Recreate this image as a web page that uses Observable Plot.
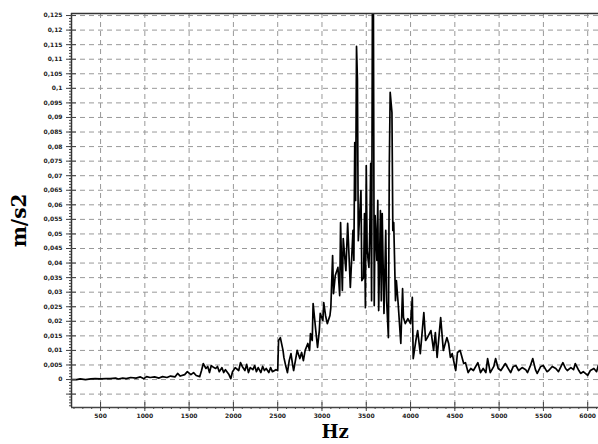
<!DOCTYPE html>
<html>
<head>
<meta charset="utf-8">
<script src="https://cdn.jsdelivr.net/npm/d3@7"></script>
<script src="https://cdn.jsdelivr.net/npm/@observablehq/plot@0.6"></script>
<style>
  html, body { margin: 0; padding: 0; background: #fff; }
  #chart { width: 598px; height: 444px; }
</style>
</head>
<body>
<div id="chart"></div>
<script>
// Frequency (Hz) and acceleration (m/s2)
const hz = [170,230,270,330,390,440,500,560,610,670,700,750,790,840,900,950,990,1020,1060,1110,1160,1200,1250,1290,1340,1370,1400,1450,1480,1520,1550,1580,1620,1640,1660,1690,1710,1730,1750,1780,1800,1820,1840,1870,1890,1910,1950,1970,1990,2020,2060,2080,2100,2130,2150,2170,2190,2220,2240,2260,2280,2310,2330,2350,2370,2400,2420,2440,2480,2500,2510,2530,2560,2570,2590,2610,2630,2650,2670,2680,2700,2720,2750,2770,2790,2810,2840,2860,2870,2890,2900,2930,2950,2970,2980,3010,3020,3040,3060,3090,3100,3120,3130,3150,3180,3200,3210,3220,3230,3240,3270,3290,3310,3320,3350,3360,3370,3380,3390,3400,3410,3440,3450,3470,3480,3490,3500,3510,3530,3540,3550,3560,3570,3580,3590,3600,3620,3630,3640,3660,3670,3680,3700,3720,3730,3750,3760,3770,3790,3800,3810,3830,3840,3860,3890,3910,3920,3940,3970,4000,4020,4030,4060,4080,4110,4150,4170,4190,4230,4260,4280,4300,4340,4370,4410,4430,4450,4470,4510,4530,4560,4600,4620,4650,4680,4710,4760,4790,4820,4850,4870,4900,4940,4960,4990,5020,5070,5110,5130,5160,5190,5220,5260,5300,5320,5350,5380,5410,5430,5470,5500,5540,5560,5600,5640,5670,5720,5750,5770,5810,5840,5860,5900,5920,5950,6000,6030,6070,6100,6120];
const acc = [0,0,0.0002,0,0.0002,0.0003,0.0002,0.0003,0.0003,0.0005,0.0002,0.0005,0.0003,0.0007,0.0005,0.0009,0.0003,0.001,0.0007,0.0009,0.0005,0.001,0.0007,0.0012,0.0009,0.0021,0.0012,0.0017,0.0027,0.0017,0.0024,0.0014,0.001,0.0031,0.0055,0.0038,0.0045,0.0024,0.0048,0.0041,0.0038,0.0045,0.0027,0.0041,0.0024,0.0034,0.0017,0.0003,0.0027,0.0041,0.0031,0.0058,0.0045,0.0031,0.0052,0.0024,0.0041,0.0034,0.0048,0.0027,0.0041,0.0024,0.0045,0.0031,0.0038,0.0024,0.0041,0.0027,0.0034,0.0031,0.0134,0.0144,0.01,0.0076,0.0048,0.0024,0.0065,0.0089,0.0048,0.0031,0.0065,0.01,0.0072,0.0093,0.0065,0.01,0.0124,0.01,0.0158,0.0134,0.0261,0.0168,0.011,0.0168,0.0227,0.0203,0.0264,0.022,0.0192,0.022,0.0247,0.0426,0.0295,0.0357,0.0385,0.0288,0.0539,0.0409,0.0306,0.0484,0.0374,0.0536,0.0391,0.0316,0.0512,0.0409,0.0814,0.0615,0.1144,0.1034,0.0477,0.0649,0.034,0.035,0.057,0.0247,0.0735,0.0443,0.0385,0.0512,0.0742,0.0271,0.135,0.135,0.0254,0.0563,0.0409,0.0615,0.0237,0.058,0.0271,0.057,0.0227,0.0512,0.0271,0.0144,0.0728,0.0986,0.0917,0.0512,0.0539,0.0271,0.034,0.0261,0.0124,0.0312,0.0213,0.0192,0.0209,0.0192,0.0282,0.0072,0.0134,0.0168,0.0089,0.023,0.0134,0.0144,0.0168,0.01,0.0161,0.0076,0.0213,0.01,0.0144,0.0124,0.0076,0.0089,0.0031,0.0093,0.01,0.0055,0.0058,0.0024,0.0038,0.0031,0.0058,0.0024,0.0038,0.0024,0.0072,0.0024,0.0045,0.0072,0.0038,0.0031,0.0055,0.0034,0.0024,0.0045,0.0048,0.0031,0.0041,0.0034,0.0024,0.0045,0.0072,0.0034,0.0021,0.0045,0.0048,0.0027,0.0031,0.0045,0.0038,0.0027,0.0058,0.0038,0.0031,0.0041,0.0034,0.0055,0.0031,0.0021,0.0027,0.0014,0.0031,0.0038,0.0027,0.0048];

const xTicks = [500,1000,1500,2000,2500,3000,3500,4000,4500,5000,5500,6000];
const yTicks = [-0.005,0,0.005,0.01,0.015,0.02,0.025,0.03,0.035,0.04,0.045,0.05,0.055,0.06,0.065,0.07,0.075,0.08,0.085,0.09,0.095,0.1,0.105,0.11,0.115,0.12,0.125];
const xDomain = [172, 6122];
const yDomain = [-0.0096, 0.1257];

const data = hz.map((h, i) => ({hz: h, acc: acc[i]}));
const yMinor = d3.range(-9, 126).map(i => i / 1000);
const xMinor = d3.range(200, 6200, 100);

const fmtY = d => d < 0 ? "" : (d === 0 ? "0" : d.toFixed(3).replace(/0+$/, "").replace(".", ","));

const chart = Plot.plot({
  width: 598,
  height: 444,
  marginLeft: 71,
  marginRight: 0,
  marginTop: 13,
  marginBottom: 37,
  style: {fontFamily: "DejaVu Sans", background: "#fff"},
  x: {domain: xDomain},
  y: {domain: yDomain},
  marks: [
    Plot.gridY(yTicks, {stroke: "#999", strokeOpacity: 1, strokeDasharray: "5,4"}),
    Plot.gridX(xTicks, {stroke: "#999", strokeOpacity: 1, strokeDasharray: "5,4"}),
    Plot.line(data, {x: "hz", y: "acc", stroke: "#000", strokeWidth: 1.7, clip: true}),
    Plot.ruleY([yDomain[1]], {stroke: "#333", strokeWidth: 1.3}),
    Plot.ruleY([yDomain[0]], {stroke: "#444", strokeWidth: 1.5}),
    Plot.ruleX([xDomain[0]], {stroke: "#333", strokeWidth: 1.5}),
    Plot.axisY(yMinor, {tickSize: 2, tickFormat: () => "", stroke: "#444", label: null}),
    Plot.axisY(yTicks, {tickSize: -5, tickFormat: () => "", stroke: "#444", label: null}),
    Plot.axisY(yTicks, {tickSize: 5, tickPadding: 4, tickFormat: fmtY, stroke: "#444",
      fontSize: 6, fontWeight: "bold", fill: "#222", label: null}),
    Plot.axisX(xMinor, {tickSize: 2, tickFormat: () => "", stroke: "#444", label: null}),
    Plot.axisX(xTicks, {tickSize: -5, tickFormat: () => "", stroke: "#444", label: null}),
    Plot.axisX(xTicks, {tickSize: 4, tickPadding: 2, tickFormat: d => String(d), stroke: "#444",
      fontSize: 6, fontWeight: "bold", fill: "#222", label: null}),
    Plot.text(["Hz"], {frameAnchor: "bottom", dy: 25, fontSize: 18, fontWeight: "bold",
      fontFamily: "DejaVu Serif", fill: "#000", lineAnchor: "middle"}),
    Plot.text(["m/s2"], {frameAnchor: "left", textAnchor: "middle", dx: -52, dy: 10, rotate: -90,
      fontSize: 20, fontWeight: "bold", fontFamily: "DejaVu Serif", fill: "#000"})
  ]
});
document.getElementById("chart").appendChild(chart);
</script>
</body>
</html>
